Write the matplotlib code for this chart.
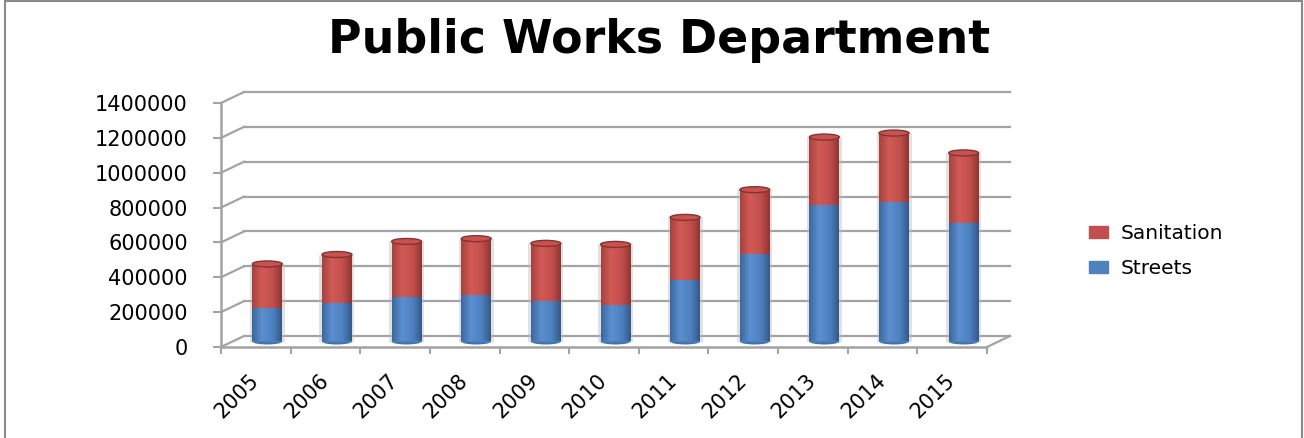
import matplotlib
matplotlib.use("Agg")
import matplotlib.pyplot as plt
import matplotlib.transforms as mtransforms
from matplotlib.patches import Ellipse, Rectangle
from matplotlib.colors import to_rgb
import numpy as np

# ---- data -------------------------------------------------------------
years = ["2005", "2006", "2007", "2008", "2009", "2010",
         "2011", "2012", "2013", "2014", "2015"]
streets = [195000, 222000, 257000, 268000, 230000, 212000,
           355000, 503000, 782000, 800000, 680000]
sanitation = [250000, 277000, 317000, 322000, 333000, 345000,
              357000, 368000, 391000, 396000, 402000]
y_ticks = [0, 200000, 400000, 600000, 800000, 1000000, 1200000, 1400000]
y_tick_labels = [str(v) for v in y_ticks]
series_names = ["Sanitation", "Streets"]
title = "Public Works Department"

BLUE = "#4F81BD"
RED = "#C0504D"
GRID = "#a3a3a3"

# ---- figure / axes geometry (pixels) ------------------------------------
W, H, DPI = 1304, 438, 100
fig = plt.figure(figsize=(W / DPI, H / DPI), dpi=DPI)
fig.patch.set_facecolor("white")

left_px, right_px, top_px, bottom_px = 221, 987, 103, 347
ax = fig.add_axes([left_px / W, 1 - bottom_px / H,
                   (right_px - left_px) / W, (bottom_px - top_px) / H])
ax.set_facecolor("none")
n = len(years)

# depth of the 3-D box (back wall shift) and of the bar row (half way)
depth_dx, depth_dy = 23, 11
back_tr = ax.transData + mtransforms.ScaledTranslation(
    depth_dx / DPI, depth_dy / DPI, fig.dpi_scale_trans)
bar_tr = ax.transData + mtransforms.ScaledTranslation(
    depth_dx / 2 / DPI, depth_dy / 2 / DPI, fig.dpi_scale_trans)
ax.set_xlim(-0.5, n - 0.5)
ax.set_ylim(0, 1400000)


def diagonal(xv, yv):
    """Line from a front-plane point to the same point on the back wall."""
    p0 = ax.transData.transform((xv, yv))
    p1 = back_tr.transform((xv, yv))
    pts = ax.transData.inverted().transform([p0, p1])
    ax.plot(pts[:, 0], pts[:, 1], color=GRID, lw=1.6, clip_on=False, zorder=1)


# back wall gridlines and side wall diagonals
for v in y_ticks:
    ax.plot([-0.5, n - 0.5], [v, v], color=GRID, lw=1.6,
            transform=back_tr, clip_on=False, zorder=1)
    diagonal(-0.5, v)
diagonal(n - 0.5, 0)


# ---- bars ----------------------------------------------------------------
def gradient(stops, num=64):
    t = np.linspace(0, 1, num)
    pos = [s[0] for s in stops]
    cols = np.array([to_rgb(s[1]) for s in stops])
    return np.stack([np.interp(t, pos, cols[:, k]) for k in range(3)], axis=-1)


blue_grad = gradient([(0, "#3b679e"), (0.33, "#5b8fcf"),
                      (0.7, "#4d80bf"), (1, "#34598a")])
red_grad = gradient([(0, "#a5423f"), (0.33, "#d25a56"),
                     (0.7, "#c24f4c"), (1, "#8e3634")])

bar_w = 0.43
x = np.arange(n)
b_streets = ax.bar(x, streets, width=bar_w, color=BLUE, transform=bar_tr,
                   zorder=3, clip_on=False)
b_san = ax.bar(x, sanitation, width=bar_w, bottom=streets, color=RED,
               transform=bar_tr, zorder=3, clip_on=False)

px_per_val = (bottom_px - top_px) / 1400000
ell_h = 6 / px_per_val
px_per_cat = (right_px - left_px) / n

for rects, grad in ((b_streets, blue_grad), (b_san, red_grad)):
    for r in rects:
        x0, y0, w, h = r.get_x(), r.get_y(), r.get_width(), r.get_height()
        ax.imshow(grad[None, :, :], extent=[x0, x0 + w, y0, y0 + h],
                  aspect="auto", transform=bar_tr, zorder=3.2,
                  interpolation="bilinear", clip_on=False)

# soft halo behind each column
halo = 2.5 / px_per_cat
for i in range(n):
    top = streets[i] + sanitation[i]
    ax.add_patch(Rectangle((x[i] - bar_w / 2 - halo, 0), bar_w + 2 * halo,
                           top, transform=bar_tr, facecolor="#bdbdbd",
                           alpha=0.45, edgecolor="none", zorder=2.7,
                           clip_on=False))
    # rounded bottom
    ax.add_patch(Ellipse((x[i], 0), bar_w, ell_h, transform=bar_tr,
                         facecolor="#4474ae", edgecolor="none", zorder=2.9,
                         clip_on=False))
    # cylinder top
    ax.add_patch(Ellipse((x[i], top), bar_w, ell_h, transform=bar_tr,
                         facecolor="#c8524f", edgecolor="#843331", lw=1.0,
                         zorder=3.5, clip_on=False))

ax.set_xlim(-0.5, n - 0.5)
ax.set_ylim(0, 1400000)

# ---- axes, ticks -----------------------------------------------------------
for s in ("top", "right"):
    ax.spines[s].set_visible(False)
for s in ("left", "bottom"):
    ax.spines[s].set_color(GRID)
    ax.spines[s].set_linewidth(1.8)
    ax.spines[s].set_zorder(2)

ax.set_yticks(y_ticks)
ax.set_yticklabels(y_tick_labels)
ax.tick_params(axis="y", direction="out", length=6, width=1.5, color=GRID,
               pad=18, labelsize=15, labelcolor="black")

ax.set_xticks(x)
ax.set_xticklabels(years)
ax.set_xticks(np.arange(n + 1) - 0.5, minor=True)
ax.tick_params(axis="x", which="major", length=0, pad=22, labelsize=15)
ax.tick_params(axis="x", which="minor", direction="out", length=5,
               width=1.5, color=GRID)
for lab in ax.get_xticklabels():
    lab.set_rotation(45)
    lab.set_ha("right")
    lab.set_va("center")
    lab.set_rotation_mode("anchor")

# ---- legend ----------------------------------------------------------------
handles = [Rectangle((0, 0), 1, 1, color=RED), Rectangle((0, 0), 1, 1, color=BLUE)]
ax.legend(handles, series_names, loc="center left",
          bbox_to_anchor=(1089 / W, 1 - 251 / H), bbox_transform=fig.transFigure,
          frameon=False, fontsize=14.5, handlelength=0.95, handleheight=0.5,
          handletextpad=0.6, labelspacing=0.8, borderpad=0, borderaxespad=0)

# ---- title & border --------------------------------------------------------------
fig.text(659 / W, 1 - 53 / H, title, ha="center", va="baseline",
         fontsize=33, fontweight="bold", color="black")
fig.add_artist(Rectangle((5 / W, -0.02), (1302 - 5) / W, 1.02 - 1.5 / H,
                         transform=fig.transFigure, fill=False,
                         edgecolor="#8a8a8a", lw=1.5))

fig.savefig("out.png", dpi=DPI)
